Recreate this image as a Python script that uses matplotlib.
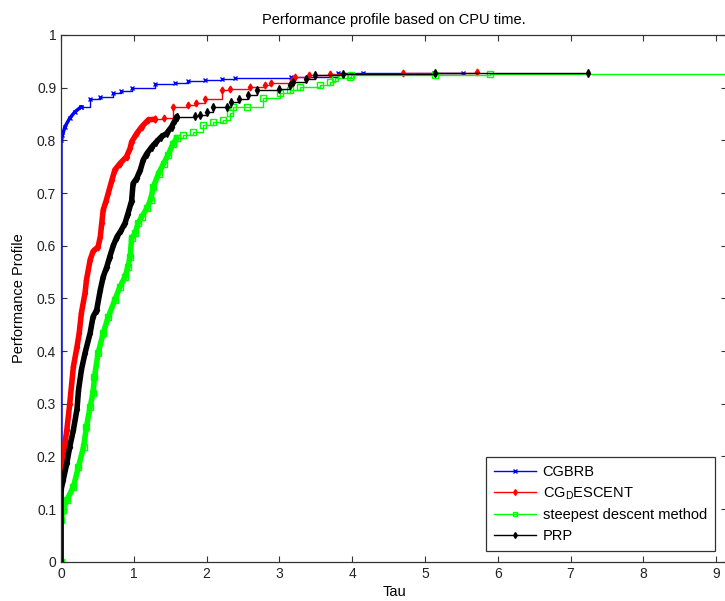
import numpy as np
import matplotlib.pyplot as plt

plt.rcParams['font.family'] = ['Liberation Sans', 'DejaVu Sans']
plt.rcParams['mathtext.default'] = 'regular'

# performance profile values (tau, rho)
cgbrb_tau = [0, 0, 0.02, 0.055, 0.12, 0.19, 0.28, 0.40, 0.54, 0.72, 0.83, 0.97,
             1.29, 1.57, 1.75, 1.98, 2.21, 2.39, 3.16, 3.80, 4.15, 5.13, 5.52]
cgbrb_rho = [0, 0.80, 0.81, 0.826, 0.842, 0.854, 0.864, 0.878, 0.882, 0.890, 0.894, 0.900,
             0.907, 0.909, 0.913, 0.915, 0.917, 0.919, 0.921, 0.927, 0.927, 0.928, 0.928]

cgd_tau = [0, 0, 0.03, 0.08, 0.12, 0.17, 0.22, 0.25, 0.28, 0.33, 0.35, 0.40, 0.44, 0.51,
           0.54, 0.56, 0.58, 0.62, 0.65, 0.70, 0.74, 0.81, 0.90, 0.95, 0.97, 1.04, 1.11,
           1.20, 1.29, 1.41, 1.54, 1.75, 1.86, 1.98, 2.21, 2.32, 2.60, 2.80, 2.89, 3.17,
           3.21, 3.40, 3.69, 4.70, 5.71]
cgd_rho = [0, 0.16, 0.20, 0.25, 0.30, 0.37, 0.408, 0.434, 0.472, 0.51, 0.535, 0.573, 0.589,
           0.598, 0.617, 0.643, 0.668, 0.685, 0.70, 0.725, 0.744, 0.756, 0.769, 0.785, 0.797,
           0.813, 0.826, 0.839, 0.840, 0.843, 0.864, 0.867, 0.870, 0.878, 0.895, 0.897, 0.902,
           0.906, 0.908, 0.915, 0.921, 0.924, 0.926, 0.927, 0.929]

sd_tau = [0, 0, 0.03, 0.08, 0.17, 0.24, 0.31, 0.35, 0.40, 0.44, 0.46, 0.51, 0.58, 0.65,
          0.74, 0.81, 0.88, 0.92, 0.95, 0.97, 1.02, 1.06, 1.11, 1.18, 1.23, 1.27, 1.34,
          1.41, 1.47, 1.54, 1.59, 1.68, 1.82, 1.95, 2.09, 2.23, 2.32, 2.36, 2.55, 2.78,
          3.01, 3.15, 3.28, 3.56, 3.70, 3.76, 3.97, 3.99, 5.14, 5.89, 9.5]
sd_rho = [0, 0.079, 0.098, 0.117, 0.142, 0.18, 0.218, 0.256, 0.294, 0.32, 0.351, 0.396,
          0.434, 0.465, 0.497, 0.522, 0.541, 0.56, 0.579, 0.614, 0.624, 0.643, 0.655, 0.671,
          0.687, 0.712, 0.737, 0.756, 0.772, 0.794, 0.804, 0.810, 0.816, 0.829, 0.835, 0.839,
          0.851, 0.863, 0.864, 0.880, 0.889, 0.896, 0.902, 0.906, 0.911, 0.918, 0.920, 0.924,
          0.925, 0.926, 0.927]

prp_tau = [0, 0, 0.03, 0.08, 0.12, 0.17, 0.22, 0.24, 0.28, 0.33, 0.40, 0.44, 0.49, 0.54,
           0.58, 0.63, 0.67, 0.72, 0.77, 0.83, 0.88, 0.92, 0.97, 0.99, 1.04, 1.09, 1.13,
           1.18, 1.25, 1.31, 1.38, 1.45, 1.52, 1.57, 1.59, 1.84, 1.91, 2.00, 2.09, 2.28,
           2.34, 2.44, 2.57, 2.69, 2.99, 3.15, 3.19, 3.37, 3.49, 3.88, 5.14, 7.24]
prp_rho = [0, 0.136, 0.155, 0.187, 0.218, 0.25, 0.29, 0.325, 0.364, 0.396, 0.434, 0.465,
           0.478, 0.516, 0.541, 0.56, 0.579, 0.601, 0.617, 0.63, 0.643, 0.661, 0.685, 0.718,
           0.728, 0.744, 0.763, 0.775, 0.788, 0.797, 0.807, 0.813, 0.826, 0.839, 0.845,
           0.846, 0.848, 0.854, 0.863, 0.864, 0.873, 0.878, 0.886, 0.896, 0.897, 0.905,
           0.911, 0.917, 0.924, 0.926, 0.927, 0.928]

labels = ['CGBRB', 'CG$_D$ESCENT', 'steepest descent method', 'PRP']
x_ticks = list(range(10))
y_ticks = [0, 0.1, 0.2, 0.3, 0.4, 0.5, 0.6, 0.7, 0.8, 0.9, 1]

fig = plt.figure(figsize=(7.25, 6.01), dpi=100)
ax = fig.add_axes([61 / 725, 1 - 561.7 / 601, (727 - 61) / 725, 526.7 / 601])

series = [
    (cgbrb_tau, cgbrb_rho, 'b', 'x', 3, 'b', 0.866, 2.5),
    (cgd_tau, cgd_rho, 'r', 'd', 3.5, 'r', 0.840, 4),
    (sd_tau, sd_rho, '#00ff00', 's', 4.5, 'none', 0.805, 4),
    (prp_tau, prp_rho, 'k', 'd', 4, 'k', 0.845, 4),
]

for (t, r, c, m, ms, fc, cut, lw), lab in zip(series, labels):
    t = np.array(t)
    r = np.array(r)
    n = int((r <= cut).sum())
    # thick trace where the markers crowd together
    ax.plot(t[:n], r[:n], color=c, lw=lw, solid_capstyle='round',
            solid_joinstyle='round', marker=m, ms=ms, mfc=fc, mec=c, mew=1.0)
    ax.plot(t[n - 1:], r[n - 1:], color=c, lw=1, drawstyle='steps-post', marker=m,
            ms=ms, mfc=fc, mec=c, mew=1.0)
    ax.plot([], [], color=c, lw=1, marker=m, ms=3, mfc=fc, mec=c, mew=1.0, label=lab)

ax.set_xlim(0, (727 - 61) / 72.8)
ax.set_ylim(0, 1)
ax.set_xticks(x_ticks)
ax.set_yticks(y_ticks)
ax.set_yticklabels(['0', '0.1', '0.2', '0.3', '0.4', '0.5', '0.6', '0.7', '0.8', '0.9', '1'])
ax.tick_params(direction='in', top=True, right=True, length=4, labelsize=10,
               colors='#333333', labelcolor='#222222')
for s in ax.spines.values():
    s.set_color('#333333')
    s.set_linewidth(0.9)

ax.set_title('Performance profile based on CPU time.', fontsize=10.5, pad=8)
ax.set_xlabel('Tau', fontsize=10.5, labelpad=3)
ax.set_ylabel('Performance Profile', fontsize=10.5, labelpad=8)

leg = ax.legend(loc='lower right', bbox_to_anchor=(715 / 725, 50 / 601),
                bbox_transform=fig.transFigure, borderaxespad=0, fontsize=10.5,
                handlelength=2.9, handletextpad=0.45, numpoints=1, fancybox=False,
                framealpha=1, edgecolor='#333333', borderpad=0.55, labelspacing=0.45)
leg.get_frame().set_linewidth(0.9)

fig.savefig('out.png', dpi=100)
